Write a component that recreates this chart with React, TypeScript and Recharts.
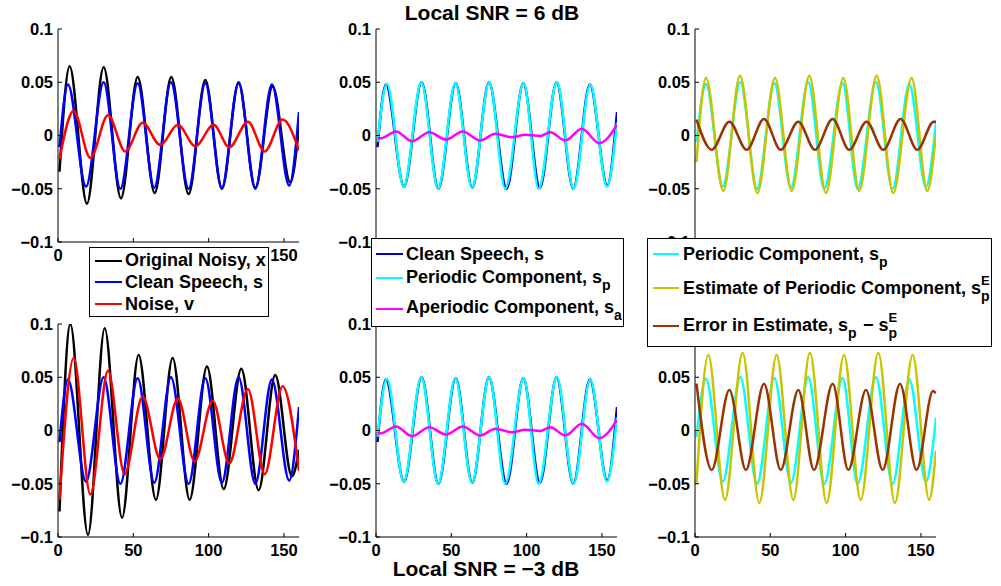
import type { ReactNode } from "react";
import { LineChart, Line, XAxis, YAxis } from "recharts";

// ---------------------------------------------------------------------------
// Data: [sample, amplitude] read at the turning points of every trace
// ---------------------------------------------------------------------------

type Pt = [number, number];

const cleanSpeech: Pt[] = [
  [1, -0.011], [6.6, 0.048], [18.6, -0.048], [30.3, 0.05], [41.4, -0.05],
  [52.9, 0.049], [63.9, -0.049], [75, 0.05], [86.7, -0.05], [97.8, 0.049],
  [108.8, -0.049], [119.9, 0.05], [131, -0.05], [142, 0.048], [153.5, -0.047],
  [160, 0.022],
];

const periodic: Pt[] = [
  [1, -0.006], [7.3, 0.0484], [18.4, -0.048], [30.1, 0.05], [41.2, -0.05],
  [52.7, 0.049], [63.7, -0.049], [75.2, 0.05], [85.8, -0.05], [98, 0.049],
  [108, -0.05], [120.1, 0.05], [131.2, -0.05], [142.3, 0.048], [153.3, -0.048],
  [160, 0.012],
];

const aperiodic: Pt[] = [
  [1, -0.0025], [3.5, -0.0025], [13.3, 0.0038], [23.9, -0.0053], [35.4, 0.0031],
  [46.5, -0.0038], [57.5, 0.0038], [69.2, -0.0047], [79.2, 0.0016], [90.3, -0.0016],
  [99.1, 0.0008], [109, -0.0004], [115.7, 0.003], [125.7, -0.0047], [136.7, 0.0063],
  [148.2, -0.0072], [160, 0.01],
];

// Local SNR = 6 dB
const noisyHigh: Pt[] = [
  [1, -0.034], [7.7, 0.065], [19.2, -0.064], [30.3, 0.064], [41.8, -0.059],
  [52.9, 0.055], [64.2, -0.054], [75.2, 0.055], [86.7, -0.055], [97.8, 0.052],
  [108.8, -0.05], [119.9, 0.049], [131, -0.049], [142.5, 0.046], [154.2, -0.044],
  [160, 0.008],
];

const noiseHigh: Pt[] = [
  [1, -0.022], [10.4, 0.023], [21.5, -0.021], [33.2, 0.019], [44.7, -0.015],
  [56.2, 0.012], [67.9, -0.009], [79.6, 0.01], [91.2, -0.01], [103.3, 0.01],
  [113.7, -0.011], [126.1, 0.013], [137.2, -0.015], [149.1, 0.015], [160, -0.014],
];

const estimateHigh: Pt[] = [
  [1, -0.025], [7.3, 0.054], [18.8, -0.052], [29.9, 0.056], [41.4, -0.054],
  [53.1, 0.054], [64.2, -0.052], [75.9, 0.056], [86.9, -0.054], [98.5, 0.054],
  [109, -0.052], [120.6, 0.056], [131.6, -0.054], [143.8, 0.054], [154.2, -0.052],
  [160, 0.0015],
];

const errorHigh: Pt[] = [
  [1, 0.015], [11.1, -0.0134], [22.8, 0.013], [34.3, -0.0134], [45.8, 0.0156],
  [56.9, -0.0134], [68.6, 0.013], [79.6, -0.0134], [91.4, 0.0156], [102.4, -0.0134],
  [113.9, 0.013], [125, -0.0134], [136.5, 0.0156], [147.6, -0.0134], [158.5, 0.013],
  [160, 0.013],
];

// Local SNR = -3 dB
const noisyLow: Pt[] = [
  [1, -0.076], [8.2, 0.1], [19.9, -0.098], [31, 0.096], [42.5, -0.082],
  [53.5, 0.071], [65, -0.065], [76.1, 0.068], [87.4, -0.065], [98.9, 0.06],
  [110, -0.055], [121.7, 0.058], [133.2, -0.056], [144.2, 0.052], [155.3, -0.043],
  [160, -0.018],
];

const noiseLow: Pt[] = [
  [1, -0.065], [10.4, 0.068], [21.5, -0.06], [33.2, 0.056], [44.2, -0.041],
  [56.2, 0.032], [67.9, -0.027], [79.6, 0.03], [90.7, -0.029], [102.7, 0.028],
  [113.7, -0.031], [126.1, 0.039], [137.2, -0.041], [149.1, 0.0415], [160, -0.038],
];

const estimateLow: Pt[] = [
  [1, -0.05], [8.8, 0.071], [19.9, -0.065], [31.6, 0.073], [42.7, -0.068],
  [54.2, 0.071], [65.3, -0.065], [76.3, 0.073], [87.4, -0.068], [98.9, 0.071],
  [110, -0.065], [121.7, 0.073], [132.7, -0.068], [144.5, 0.071], [155.5, -0.065],
  [160, -0.019],
];

const errorLow: Pt[] = [
  [1, 0.044], [11.1, -0.037], [22.8, 0.038], [33.8, -0.037], [45.8, 0.044],
  [56.9, -0.037], [68.6, 0.038], [79, -0.037], [91.4, 0.044], [101.8, -0.037],
  [113.5, 0.038], [124.6, -0.037], [136.1, 0.044], [147.1, -0.037], [158, 0.037],
  [160, 0.035],
];

const xTicks = [0, 50, 100, 150];
const yTicks = [-0.1, -0.05, 0, 0.05, 0.1];

// ---------------------------------------------------------------------------
// Styles
// ---------------------------------------------------------------------------

const FONT = '"Liberation Sans", Arial, Helvetica, sans-serif';

const C = {
  noisy: "#000000",
  clean: "#0000ff",
  clean2: "#0000d0",
  noise: "#ff0000",
  periodic: "#00ffff",
  aperiodic: "#ff00ff",
  estimate: "#c8c400",
  error: "#993300",
};

const tickStyle = { fill: "#000", fontSize: 16.5, fontWeight: "bold", fontFamily: FONT };

const fmtY = (v: number) => (v < 0 ? "\u2212" + String(-v) : String(v));

const toRows = (pts: Pt[]) => pts.map(([x, y]) => ({ x, y }));

// ---------------------------------------------------------------------------
// One subplot
// ---------------------------------------------------------------------------

interface Trace {
  name: string;
  color: string;
  points: Pt[];
}

const PLOT_W = 241;
const PLOT_H = 213;
const Y_AXIS_W = 55;
const M_TOP = 12;

function Panel({ left, top, traces }: { left: number; top: number; traces: Trace[] }) {
  return (
    <div style={{ position: "absolute", left: left - Y_AXIS_W, top: top - M_TOP }}>
      <LineChart
        width={Y_AXIS_W + PLOT_W + 14}
        height={M_TOP + PLOT_H + 30}
        margin={{ top: M_TOP, right: 14, left: 0, bottom: 0 }}
      >
        <XAxis
          type="number"
          dataKey="x"
          domain={[0, 160]}
          ticks={xTicks}
          interval={0}
          allowDataOverflow
          height={30}
          tickSize={-4}
          tickMargin={11}
          stroke="#000"
          tick={tickStyle}
        />
        <YAxis
          type="number"
          domain={[-0.1, 0.1]}
          ticks={yTicks}
          interval={0}
          allowDataOverflow
          width={Y_AXIS_W}
          tickSize={-4}
          tickMargin={9}
          tickFormatter={fmtY}
          stroke="#000"
          tick={tickStyle}
        />
        {traces.map((t) => (
          <Line
            key={t.name}
            name={t.name}
            data={toRows(t.points)}
            dataKey="y"
            type="monotone"
            stroke={t.color}
            strokeWidth={2.5}
            dot={false}
            activeDot={false}
            isAnimationActive={false}
          />
        ))}
      </LineChart>
    </div>
  );
}

// ---------------------------------------------------------------------------
// Legends (MATLAB-style boxes overlapping the row below)
// ---------------------------------------------------------------------------

function Script({ sub, sup }: { sub?: string; sup?: string }) {
  return (
    <span style={{ position: "relative", display: "inline-block", width: 10, height: 0 }}>
      {sup && (
        <span style={{ position: "absolute", left: 0, top: -20, fontSize: 13, lineHeight: "13px" }}>
          {sup}
        </span>
      )}
      {sub && (
        <span style={{ position: "absolute", left: 0, top: -5, fontSize: 14, lineHeight: "14px" }}>
          {sub}
        </span>
      )}
    </span>
  );
}

interface LegendRow {
  color: string;
  cy: number;
  ly: number;
  label: ReactNode;
}

function LegendBox({
  left, top, width, height, lineX, lineW, textX, rows,
}: {
  left: number; top: number; width: number; height: number;
  lineX: number; lineW: number; textX: number; rows: LegendRow[];
}) {
  return (
    <div
      style={{
        position: "absolute", left, top, width, height, boxSizing: "border-box",
        border: "1px solid #000", background: "#fff", zIndex: 5,
      }}
    >
      {rows.map((r, i) => (
        <div key={i}>
          <div
            style={{
              position: "absolute", left: lineX - 1, top: r.ly - 1.25 - 1,
              width: lineW, height: 2.5, background: r.color,
            }}
          />
          <div
            style={{
              position: "absolute", left: textX - 1, top: r.cy - 10 - 1,
              fontSize: 18, lineHeight: "20px", fontWeight: "bold", whiteSpace: "nowrap",
            }}
          >
            {r.label}
          </div>
        </div>
      ))}
    </div>
  );
}

// ---------------------------------------------------------------------------
// App
// ---------------------------------------------------------------------------

const COLS = [57.5, 376, 695];
const ROWS = [28.5, 323.5];

export default function App() {
  return (
    <div
      style={{
        position: "absolute", left: 0, top: 0, width: 1001, height: 586,
        background: "#fff", fontFamily: FONT, color: "#000", overflow: "hidden",
      }}
    >
      <div
        style={{
          position: "absolute", left: 342, top: 2, width: 300, textAlign: "center",
          fontSize: 21, lineHeight: "21px", fontWeight: "bold",
        }}
      >
        Local SNR = 6 dB
      </div>

      <Panel
        left={COLS[0]} top={ROWS[0]}
        traces={[
          { name: "Original Noisy, x", color: C.noisy, points: noisyHigh },
          { name: "Clean Speech, s", color: C.clean, points: cleanSpeech },
          { name: "Noise, v", color: C.noise, points: noiseHigh },
        ]}
      />
      <Panel
        left={COLS[1]} top={ROWS[0]}
        traces={[
          { name: "Clean Speech, s", color: C.clean2, points: cleanSpeech },
          { name: "Periodic Component", color: C.periodic, points: periodic },
          { name: "Aperiodic Component", color: C.aperiodic, points: aperiodic },
        ]}
      />
      <Panel
        left={COLS[2]} top={ROWS[0]}
        traces={[
          { name: "Periodic Component", color: C.periodic, points: periodic },
          { name: "Estimate", color: C.estimate, points: estimateHigh },
          { name: "Error", color: C.error, points: errorHigh },
        ]}
      />
      <Panel
        left={COLS[0]} top={ROWS[1]}
        traces={[
          { name: "Original Noisy, x", color: C.noisy, points: noisyLow },
          { name: "Clean Speech, s", color: C.clean, points: cleanSpeech },
          { name: "Noise, v", color: C.noise, points: noiseLow },
        ]}
      />
      <Panel
        left={COLS[1]} top={ROWS[1]}
        traces={[
          { name: "Clean Speech, s", color: C.clean2, points: cleanSpeech },
          { name: "Periodic Component", color: C.periodic, points: periodic },
          { name: "Aperiodic Component", color: C.aperiodic, points: aperiodic },
        ]}
      />
      <Panel
        left={COLS[2]} top={ROWS[1]}
        traces={[
          { name: "Periodic Component", color: C.periodic, points: periodic },
          { name: "Estimate", color: C.estimate, points: estimateLow },
          { name: "Error", color: C.error, points: errorLow },
        ]}
      />

      <LegendBox
        left={89} top={247} width={180} height={70} lineX={6} lineW={27} textX={36}
        rows={[
          { color: C.noisy, cy: 13, ly: 14, label: "Original Noisy, x" },
          { color: C.clean, cy: 35, ly: 35, label: "Clean Speech, s" },
          { color: C.noise, cy: 57, ly: 57, label: "Noise, v" },
        ]}
      />
      <LegendBox
        left={371} top={238} width={253} height={89} lineX={5} lineW={27} textX={35}
        rows={[
          { color: C.clean2, cy: 16, ly: 16, label: "Clean Speech, s" },
          {
            color: C.periodic, cy: 39, ly: 40,
            label: <>Periodic Component, s<Script sub="p" /></>,
          },
          {
            color: C.aperiodic, cy: 69, ly: 71,
            label: <>Aperiodic Component, s<Script sub="a" /></>,
          },
        ]}
      />
      <LegendBox
        left={647} top={238} width={345} height={109} lineX={6} lineW={26} textX={36}
        rows={[
          {
            color: C.periodic, cy: 16, ly: 16,
            label: <>Periodic Component, s<Script sub="p" /></>,
          },
          {
            color: C.estimate, cy: 50, ly: 50,
            label: <>Estimate of Periodic Component, s<Script sub="p" sup="E" /></>,
          },
          {
            color: C.error, cy: 87, ly: 88,
            label: <>Error in Estimate, s<Script sub="p" /> {"\u2212"} s<Script sub="p" sup="E" /></>,
          },
        ]}
      />

      <div
        style={{
          position: "absolute", left: 336, top: 558, width: 300, textAlign: "center",
          fontSize: 21, lineHeight: "21px", fontWeight: "bold",
        }}
      >
        Local SNR = {"\u2212"}3 dB
      </div>
    </div>
  );
}
